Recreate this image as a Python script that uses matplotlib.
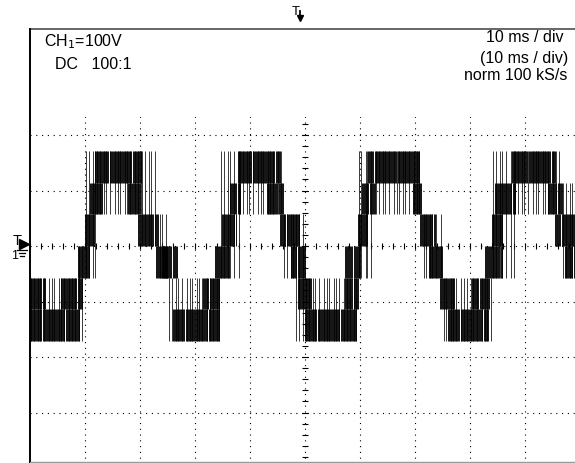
#!/usr/bin/env python3
# Oscilloscope capture of a 7-level inverter output voltage (100 V/div, 10 ms/div).
import numpy as np
import matplotlib
matplotlib.use("Agg")
import matplotlib.pyplot as plt
from matplotlib.lines import Line2D
from matplotlib.patches import Rectangle

plt.rcParams["font.family"] = ["Liberation Sans", "DejaVu Sans"]

# ---- scope settings ------------------------------------------------------
V_PER_DIV = 100
MS_PER_DIV = 10
HEADER_LEFT = ["CH$_1$=100V", "DC   100:1"]
HEADER_RIGHT = ["10 ms / div", "(10 ms / div)", "norm 100 kS/s"]

# ---- trace ----------------------------------------------------------------
# dense switching bands: start ms, end ms, low V, high V
BAND_T0 = [0.0, 0.0, 5.6, 8.7, 10.0, 10.9, 11.8, 17.8, 19.6, 22.9,
           24.2, 26.0, 31.5, 33.6, 34.9, 36.4, 37.8, 43.1, 45.5, 47.5,
           48.7, 50.0, 57.3, 57.3, 59.6, 60.4, 61.5, 69.6, 70.9, 72.5,
           74.5, 76.0, 80.4, 82.7, 84.0, 84.5, 87.6, 94.2, 95.5, 97.3]
BAND_T1 = [9.0, 2.7, 9.5, 10.9, 11.8, 13.3, 20.2, 20.2, 23.3, 25.1,
           26.7, 34.5, 34.5, 36.4, 37.5, 38.2, 45.5, 46.0, 49.1, 50.0,
           51.3, 59.5, 59.6, 60.0, 61.5, 62.7, 70.9, 71.3, 73.6, 75.0,
           77.3, 83.3, 83.6, 85.8, 86.0, 88.2, 95.4, 96.7, 100.0, 100.0]
BAND_LO = [-171, -114, -114, -57, 0, 57, 114, 57, 0, -57,
           -57, -171, -114, -57, 0, 57, 114, 57, 0, -57,
           -114, -171, -114, -57, 0, 57, 114, 57, 0, -57,
           -114, -171, -114, -57, 0, 57, 114, 57, 0, -57]
BAND_HI = [-114, -57, -57, 0, 57, 114, 171, 114, 57, 0,
           0, -114, -57, 0, 57, 114, 171, 114, 57, 0,
           -57, -114, -57, 0, 57, 114, 171, 114, 57, 0,
           -57, -114, -57, 0, 57, 114, 171, 114, 57, 0]

# sparse spikes crossing several levels: start ms, end ms, low V, high V
SPIKE_T0 = [0.0, 8.7, 10.0, 12.0, 20.2, 23.3, 25.1, 34.5, 38.0, 46.0,
            48.2, 50.0, 59.5, 62.7, 71.3, 75.0, 84.0, 88.0, 96.7]
SPIKE_T1 = [8.7, 10.0, 12.0, 20.2, 23.3, 25.1, 34.5, 38.0, 46.0, 48.2,
            50.0, 59.5, 62.7, 71.3, 75.0, 84.0, 88.0, 96.7, 100.0]
SPIKE_LO = [-171, -171, -57, 57, 0, -57, -171, -57, 57, -57,
            -171, -171, -57, 57, -57, -171, -57, 57, -57]
SPIKE_HI = [-57, 0, 171, 171, 171, 57, -57, 171, 171, 57,
            57, -57, 171, 171, 57, -57, 171, 171, 114]

W, H = 575, 464
SPIKE_GAPS = [0.45, 0.8, 0.35, 0.65, 0.95, 0.5]   # uneven spacing of the stray edges


def fig_xy(x, y):
    """pixel position (top-left origin) -> figure fraction"""
    return x / W, 1 - y / H


def spike_times(t0, t1):
    ts, t, k = [], t0 + 0.25, 0
    while t < t1:
        ts.append(t)
        t += SPIKE_GAPS[k % len(SPIKE_GAPS)]
        k += 1
    return ts


def draw_trace(ax):
    for t0, t1, lo, hi in zip(BAND_T0, BAND_T1, BAND_LO, BAND_HI):
        ts = np.arange(t0, t1, 0.19)
        ax.vlines(ts, lo, hi, color="black", lw=0.65, zorder=5)
    for t0, t1, lo, hi in zip(SPIKE_T0, SPIKE_T1, SPIKE_LO, SPIKE_HI):
        ax.vlines(spike_times(t0, t1), lo, hi, color="0.1", lw=0.6, zorder=4)


def draw_graticule(ax):
    dots = dict(color="black", lw=0.8, linestyle=(0, (1, 4.2)), zorder=1)
    for k in range(1, 10):
        ax.axvline(k * MS_PER_DIV, **dots)
    for k in range(-3, 4):
        ax.axhline(k * V_PER_DIV, **dots)
    # minor ticks on the centre axes
    tx = np.arange(0, 100.1, 2)
    ax.vlines(tx, -5, 5, color="black", lw=0.8, zorder=2)
    ty = np.arange(-400, 401, 20)
    ax.hlines(ty, 49.5, 50.5, color="black", lw=0.8, zorder=2)


def main():
    fig = plt.figure(figsize=(W / 100, H / 100), dpi=100)
    x0, y1 = fig_xy(30, 469)
    x1, y0 = fig_xy(580, 25)
    ax = fig.add_axes([x0, y1, x1 - x0, y0 - y1])
    ax.set_xlim(0, 10 * MS_PER_DIV)
    ax.set_ylim(-4 * V_PER_DIV, 4 * V_PER_DIV)
    ax.axis("off")

    draw_graticule(ax)
    draw_trace(ax)

    # header box hides the top of the graticule
    ax.add_patch(Rectangle((0.2, 232), 100, 200, facecolor="white",
                           edgecolor="none", zorder=6))
    ax.plot([0.2, 100], [391, 391], color="0.3", lw=1.2, zorder=7, clip_on=False)
    ax.plot([0, 0], [-400, 391], color="black", lw=1.4, zorder=7, clip_on=False)
    ax.plot([0, 100], [-389, -389], color="0.6", lw=1.0, zorder=7)

    fs = 11.5
    fig.text(*fig_xy(44, 46), HEADER_LEFT[0], fontsize=fs, va="baseline")
    fig.text(*fig_xy(55, 69), HEADER_LEFT[1], fontsize=fs, va="baseline")
    fig.text(*fig_xy(563, 42), HEADER_RIGHT[0], fontsize=fs, ha="right", va="baseline")
    fig.text(*fig_xy(568, 63), HEADER_RIGHT[1], fontsize=fs, ha="right", va="baseline")
    fig.text(*fig_xy(567, 80), HEADER_RIGHT[2], fontsize=fs, ha="right", va="baseline")

    # trigger markers
    fig.text(*fig_xy(296, 15), "T", fontsize=9.5, ha="center", va="baseline")
    fig.add_artist(Line2D(*zip(fig_xy(300, 12), fig_xy(300, 20)),
                          color="black", lw=1.3, transform=fig.transFigure))
    fig.add_artist(Line2D([fig_xy(300, 19)[0]], [fig_xy(300, 19)[1]], marker="v",
                          ms=4, color="black", transform=fig.transFigure))
    fig.text(*fig_xy(17, 245), "T", fontsize=10.5, ha="center", va="baseline")
    fig.add_artist(Line2D([fig_xy(24, 245)[0]], [fig_xy(24, 245)[1]], marker=">",
                          ms=7, color="black", transform=fig.transFigure))
    fig.text(*fig_xy(15, 259), "1", fontsize=9, ha="center", va="baseline")
    for w, yy in [(5, 251), (3.5, 254), (2, 257)]:
        fig.add_artist(Line2D(*zip(fig_xy(22 - w, yy), fig_xy(22 + w, yy)),
                              color="black", lw=0.9, transform=fig.transFigure))

    fig.savefig("out.png", dpi=100)


if __name__ == "__main__":
    main()
